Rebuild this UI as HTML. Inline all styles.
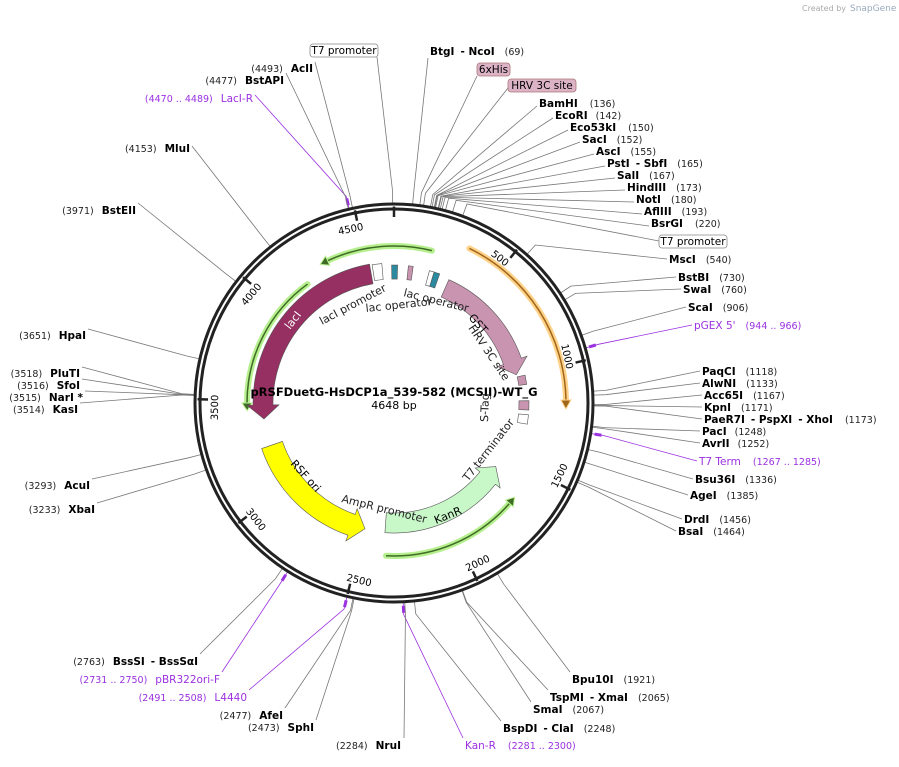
<!DOCTYPE html><html><head><meta charset="utf-8"><style>
body{margin:0;background:#fff;width:899px;height:762px;overflow:hidden}
svg{font-family:"DejaVu Sans","Liberation Sans",sans-serif}
.n{font-weight:bold;font-size:10.5px;fill:#000}
.p{font-size:9.5px;fill:#222}
.f{font-size:10.5px;fill:#9b30e0}
.fp{font-size:9.5px;fill:#9b30e0}
.b{font-size:10.5px;fill:#000}
.i{font-size:11px;fill:#222}
</style></head><body>
<svg id="s" width="899" height="762" viewBox="0 0 899 762" xmlns="http://www.w3.org/2000/svg">
<text x="802" y="11" style="font-size:8px;fill:#aaa">Created by</text><text x="850" y="11" style="font-size:9px;fill:#9ab">SnapGene</text>
<g id="lines" stroke="#777" stroke-width="0.8" fill="none"></g>
<circle cx="394" cy="403" r="199" fill="none" stroke="#222" stroke-width="3"/>
<circle cx="394" cy="403" r="194" fill="none" stroke="#222" stroke-width="3"/>
<g id="feat"></g>
<g id="ticks"></g>
<text x="394" y="396" text-anchor="middle" style="font-weight:bold;font-size:11.5px">pRSFDuetG-HsDCP1a_539-582 (MCSII)-WT_G</text>
<text x="394" y="409" text-anchor="middle" style="font-size:11px">4648 bp</text>
<text class="i" transform="translate(322,325) rotate(-28)">lacI promoter</text>
<text class="i" transform="translate(366,312) rotate(-6)">lac operator</text>
<text class="i" transform="translate(403,296) rotate(14)">lac operator</text>
<text class="i" transform="translate(468,328) rotate(56)">HRV 3C site</text>
<text class="i" transform="translate(488,422) rotate(-88)">S-Tag</text>
<text class="i" transform="translate(468,482) rotate(-52)">T7 terminator</text>
<text class="i" transform="translate(341,502) rotate(14)">AmpR promoter</text>
<text style="font-size:11px;fill:#fff" transform="translate(290,330) rotate(-52)">lacI</text>
<text style="font-size:11px;fill:#000" transform="translate(468,318) rotate(48)">GST</text>
<text style="font-size:11px;fill:#000" transform="translate(290,464) rotate(48)">RSF ori</text>
<text style="font-size:11px;fill:#000" transform="translate(436,524) rotate(-22)">KanR</text>
<g id="labels"></g>
</svg>
<script>
const C=[394,403],N=4648,NS="http://www.w3.org/2000/svg";
function pt(a,r){a=a*Math.PI/180;return[C[0]+r*Math.sin(a),C[1]-r*Math.cos(a)]}
function ang(bp){return bp/N*360}
function el(t,at,p){const e=document.createElementNS(NS,t);for(const k in at)e.setAttribute(k,at[k]);p.appendChild(e);return e}
const L=document.getElementById('lines'),F=document.getElementById('feat'),T=document.getElementById('ticks'),LB=document.getElementById('labels');
// labels: bp, x, y (line end), name, num, anchor, cls
const lab=[
[4643,377,57,null],[69,428,58],[96,477,76],[110,508,88],
[136,537,106],[142,553,118],[150,568,130],[152,580,142],[155,594,154],[165,605,166],[167,615,178],[173,625,190],[180,634,202],[193,642,214],[220,649,226],[260,659,241],
[540,667,259],[730,676,277],[760,681,289],[906,686,307],[955,692,325],
[1118,700,371],[1133,700,383],[1167,702,395],[1171,702,407],[1173,702,419],[1248,700,431],[1252,700,443],[1276,697,461],[1336,693,479],[1385,688,495],[1456,682,519],[1464,676,531],
[1921,570,672],[2065,548,690],[2067,531,702],[2248,501,721],[2290,463,738],[2284,404,738],
[2473,316,720],[2477,285,708],[2500,249,690],[2740,222,672],[2763,200,654],
[3233,97,503],[3293,92,479],[3514,80,403],[3515,85,391],[3516,82,379],[3518,82,367],[3651,88,329],
[3971,138,203],[4153,192,146],[4480,255,95],[4477,286,73],[4493,315,62]];
const purple={955:1,1276:1,2290:1,2500:1,2740:1,4480:1};
lab.forEach(l=>{const a=ang(l[0]);const p1=pt(a,200),p2=pt(a,212);
el('polyline',{points:`${l[1]},${l[2]} ${p2[0]},${p2[1]} ${p1[0]},${p1[1]}`,stroke:purple[l[0]]?'#9b30e0':'#777'},L);
if(purple[l[0]]){const q=pt(a,207);el('line',{x1:pt(a,203)[0],y1:pt(a,203)[1],x2:pt(a,210)[0],y2:pt(a,210)[1],stroke:'#9b30e0','stroke-width':3},L)}});
function T_(x,y,html,anchor){const t=el('text',{x:x,y:y,'text-anchor':anchor||'start'},LB);t.innerHTML=html}
const R=[
[430,55,'<tspan class="n">BtgI</tspan><tspan class="n" dx="6">- NcoI</tspan><tspan class="p" dx="10">(69)</tspan>'],
[539,107,'<tspan class="n">BamHI</tspan><tspan class="p" dx="12">(136)</tspan>'],
[555,119,'<tspan class="n">EcoRI</tspan><tspan class="p" dx="8">(142)</tspan>'],
[570,131,'<tspan class="n">Eco53kI</tspan><tspan class="p" dx="12">(150)</tspan>'],
[582,143,'<tspan class="n">SacI</tspan><tspan class="p" dx="10">(152)</tspan>'],
[596,155,'<tspan class="n">AscI</tspan><tspan class="p" dx="10">(155)</tspan>'],
[607,167,'<tspan class="n">PstI</tspan><tspan class="n" dx="6">- SbfI</tspan><tspan class="p" dx="10">(165)</tspan>'],
[617,179,'<tspan class="n">SalI</tspan><tspan class="p" dx="10">(167)</tspan>'],
[627,191,'<tspan class="n">HindIII</tspan><tspan class="p" dx="10">(173)</tspan>'],
[636,203,'<tspan class="n">NotI</tspan><tspan class="p" dx="10">(180)</tspan>'],
[644,215,'<tspan class="n">AflIII</tspan><tspan class="p" dx="10">(193)</tspan>'],
[651,227,'<tspan class="n">BsrGI</tspan><tspan class="p" dx="12">(220)</tspan>'],
[669,263,'<tspan class="n">MscI</tspan><tspan class="p" dx="10">(540)</tspan>'],
[678,281,'<tspan class="n">BstBI</tspan><tspan class="p" dx="10">(730)</tspan>'],
[683,293,'<tspan class="n">SwaI</tspan><tspan class="p" dx="10">(760)</tspan>'],
[688,311,'<tspan class="n">ScaI</tspan><tspan class="p" dx="10">(906)</tspan>'],
[694,329,'<tspan class="f">pGEX 5\'</tspan><tspan class="fp" dx="10">(944 .. 966)</tspan>'],
[702,375,'<tspan class="n">PaqCI</tspan><tspan class="p" dx="10">(1118)</tspan>'],
[702,387,'<tspan class="n">AlwNI</tspan><tspan class="p" dx="10">(1133)</tspan>'],
[704,399,'<tspan class="n">Acc65I</tspan><tspan class="p" dx="10">(1167)</tspan>'],
[704,411,'<tspan class="n">KpnI</tspan><tspan class="p" dx="10">(1171)</tspan>'],
[704,423,'<tspan class="n">PaeR7I</tspan><tspan class="n" dx="6">- PspXI</tspan><tspan class="n" dx="6">- XhoI</tspan><tspan class="p" dx="12">(1173)</tspan>'],
[702,435,'<tspan class="n">PacI</tspan><tspan class="p" dx="8">(1248)</tspan>'],
[702,447,'<tspan class="n">AvrII</tspan><tspan class="p" dx="8">(1252)</tspan>'],
[699,465,'<tspan class="f">T7 Term</tspan><tspan class="fp" dx="12">(1267 .. 1285)</tspan>'],
[695,483,'<tspan class="n">Bsu36I</tspan><tspan class="p" dx="10">(1336)</tspan>'],
[690,499,'<tspan class="n">AgeI</tspan><tspan class="p" dx="10">(1385)</tspan>'],
[684,523,'<tspan class="n">DrdI</tspan><tspan class="p" dx="10">(1456)</tspan>'],
[678,535,'<tspan class="n">BsaI</tspan><tspan class="p" dx="10">(1464)</tspan>'],
[572,683,'<tspan class="n">Bpu10I</tspan><tspan class="p" dx="10">(1921)</tspan>'],
[550,701,'<tspan class="n">TspMI</tspan><tspan class="n" dx="6">- XmaI</tspan><tspan class="p" dx="10">(2065)</tspan>'],
[533,713,'<tspan class="n">SmaI</tspan><tspan class="p" dx="10">(2067)</tspan>'],
[503,732,'<tspan class="n">BspDI</tspan><tspan class="n" dx="6">- ClaI</tspan><tspan class="p" dx="10">(2248)</tspan>'],
[465,749,'<tspan class="f">Kan-R</tspan><tspan class="fp" dx="12">(2281 .. 2300)</tspan>']];
R.forEach(r=>T_(r[0],r[1],r[2]));
const Lf=[
[401,749,'<tspan class="p">(2284)</tspan><tspan class="n" dx="8">NruI</tspan>'],
[314,731,'<tspan class="p">(2473)</tspan><tspan class="n" dx="8">SphI</tspan>'],
[283,719,'<tspan class="p">(2477)</tspan><tspan class="n" dx="8">AfeI</tspan>'],
[247,701,'<tspan class="fp">(2491 .. 2508)</tspan><tspan class="f" dx="8">L4440</tspan>'],
[220,683,'<tspan class="fp">(2731 .. 2750)</tspan><tspan class="f" dx="8">pBR322ori-F</tspan>'],
[198,665,'<tspan class="p">(2763)</tspan><tspan class="n" dx="8">BssSI</tspan><tspan class="n" dx="6">- BssSαI</tspan>'],
[95,513,'<tspan class="p">(3233)</tspan><tspan class="n" dx="8">XbaI</tspan>'],
[90,489,'<tspan class="p">(3293)</tspan><tspan class="n" dx="8">AcuI</tspan>'],
[78,413,'<tspan class="p">(3514)</tspan><tspan class="n" dx="8">KasI</tspan>'],
[83,401,'<tspan class="p">(3515)</tspan><tspan class="n" dx="8">NarI *</tspan>'],
[80,389,'<tspan class="p">(3516)</tspan><tspan class="n" dx="8">SfoI</tspan>'],
[80,377,'<tspan class="p">(3518)</tspan><tspan class="n" dx="8">PluTI</tspan>'],
[86,339,'<tspan class="p">(3651)</tspan><tspan class="n" dx="8">HpaI</tspan>'],
[136,214,'<tspan class="p">(3971)</tspan><tspan class="n" dx="8">BstEII</tspan>'],
[190,152,'<tspan class="p">(4153)</tspan><tspan class="n" dx="8">MluI</tspan>'],
[253,102,'<tspan class="fp">(4470 .. 4489)</tspan><tspan class="f" dx="8">LacI-R</tspan>'],
[284,84,'<tspan class="p">(4477)</tspan><tspan class="n" dx="8">BstAPI</tspan>'],
[313,72,'<tspan class="p">(4493)</tspan><tspan class="n" dx="8">AcII</tspan>']];
Lf.forEach(r=>T_(r[0],r[1],r[2],'end'));
// boxes
function box(x,y,w,h,txt,fill,st){el('rect',{x:x,y:y,width:w,height:h,rx:3,fill:fill,stroke:st,'stroke-width':0.8},LB);const t=el('text',{x:x+w/2,y:y+h-3,'text-anchor':'middle',style:'font-size:10.5px'},LB);t.textContent=txt}
box(310,44,68,13,'T7 promoter','#fff','#888');box(659,235,68,13,'T7 promoter','#fff','#888');
box(477,63,33,13,'6xHis','#dcb3c6','#a77');box(508,79,68,13,'HRV 3C site','#dcb3c6','#a77');
// ticks
for(let bp=500;bp<N;bp+=500){const a=ang(bp);const p1=pt(a,196.5),p2=pt(a,186);
el('line',{x1:p1[0],y1:p1[1],x2:p2[0],y2:p2[1],stroke:'#222','stroke-width':2.5},T);
const q=pt(a-2.5,180);const t=el('text',{x:0,y:0,'text-anchor':'middle',style:'font-size:10px',transform:`translate(${q[0]},${q[1]}) rotate(${a>90&&a<270?a-180:a}) translate(0,4)`},T);t.textContent=bp}
{const p1=pt(0,196.5),p2=pt(0,186);el('line',{x1:p1[0],y1:p1[1],x2:p2[0],y2:p2[1],stroke:'#222','stroke-width':2.5},T)}
// arrow features: a1 start, a2 tip (deg), r1 inner, r2 outer
function arrow(a1,a2,r1,r2,fill,st){const dir=a2>a1?1:-1,h=10/((r1+r2)/2)*180/Math.PI;const b=a2-dir*h*1.4;
const big=Math.abs(b-a1)>180?1:0,sw=dir>0?1:0;const o1=pt(a1,r2),o2=pt(b,r2),i2=pt(b,r1),i1=pt(a1,r1),e1=pt(b,r2+6),e2=pt(b,r1-6),tip=pt(a2,(r1+r2)/2);
el('path',{d:`M${o1} A${r2},${r2} 0 ${big} ${sw} ${o2} L${e1} L${tip} L${e2} L${i2} A${r1},${r1} 0 ${big} ${1-sw} ${i1} Z`,fill:fill,stroke:st||'#555','stroke-width':0.6},F)}
function thin(a1,a2,r,col,halo){const dir=a2>a1?1:-1,b=a2-dir*3;const p1=pt(a1,r),p2=pt(b,r);const big=Math.abs(b-a1)>180?1:0,sw=dir>0?1:0;
el('path',{d:`M${p1} A${r},${r} 0 ${big} ${sw} ${p2}`,stroke:halo,'stroke-width':6,fill:'none','stroke-linecap':'round'},F);
el('path',{d:`M${p1} A${r},${r} 0 ${big} ${sw} ${p2}`,stroke:col,'stroke-width':1.5,fill:'none'},F);
const e1=pt(b,r+5),e2=pt(b,r-5),tp=pt(a2,r);el('path',{d:`M${e1} L${tp} L${e2} Z`,fill:col,stroke:halo,'stroke-width':1},F)}
thin(14,-28,157,'#3f6b25','#b6f08e');
thin(-36,-93,147,'#3f6b25','#b6f08e');
thin(26,92,172,'#a0661a','#ffd28a');
thin(183,128,153,'#3f6b25','#b6f08e');
arrow(-10,-97,121,141,'#962f62');
arrow(24,77,116,135,'#c994b0');
arrow(251,193,118,140,'#ffff00');
arrow(184,122,110,130,'#c8f7c8');
// small features
function sm(a1,a2,r1,r2,fill){const o1=pt(a1,r2),o2=pt(a2,r2),i2=pt(a2,r1),i1=pt(a1,r1);el('path',{d:`M${o1} L${o2} L${i2} L${i1} Z`,fill:fill,stroke:'#555','stroke-width':0.6},F)}
sm(-9,-5,124,140,'#fff');sm(-1,1.5,124,138,'#2b8aa0');sm(6,8,124,138,'#c994b0');sm(17,19.5,122,137,'#2b8aa0');sm(15,17,122,137,'#fff');
sm(78,82,126,134,'#c994b0');sm(89,93,125,135,'#c994b0');sm(95,99,125,135,'#fff');
</script>
</body></html>
